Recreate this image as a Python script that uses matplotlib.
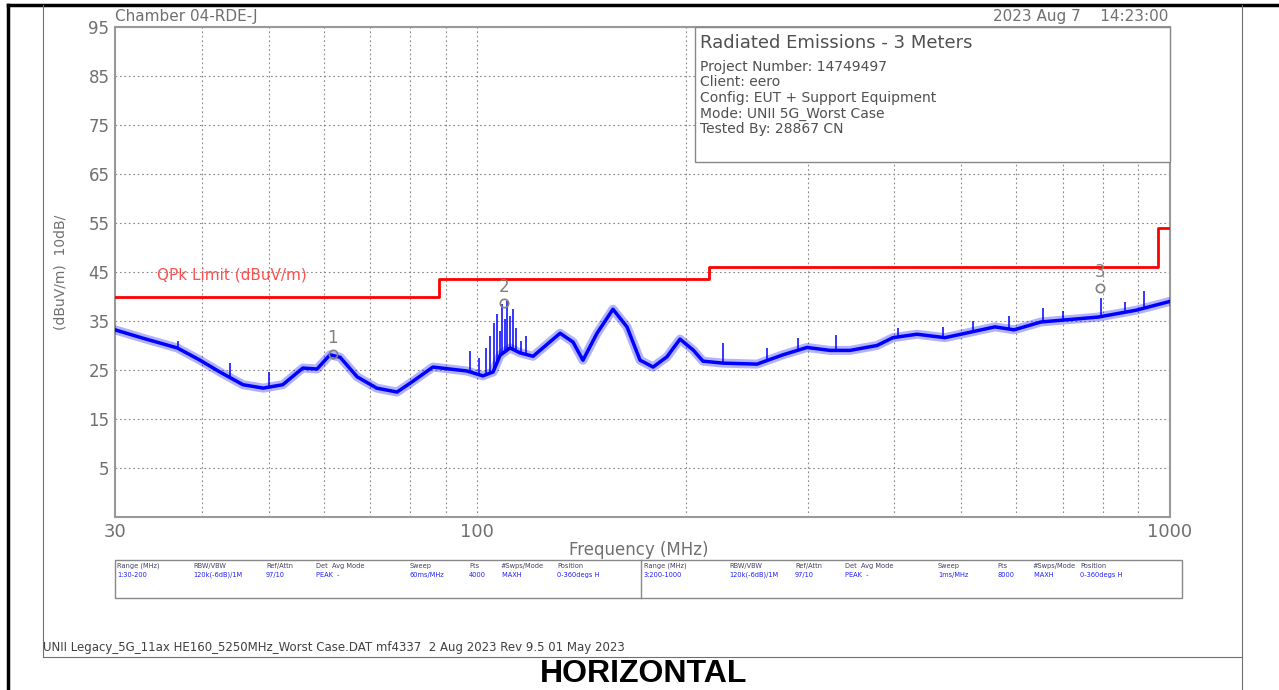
import numpy as np
import matplotlib
matplotlib.use("Agg")
import matplotlib.pyplot as plt
from matplotlib.lines import Line2D
from matplotlib.patches import Rectangle

# ---- data ----
trace_freq = [30.0, 32.9, 36.9, 39.8, 42.5, 45.9, 49.1, 52.4, 56.0, 58.7,
              61.3, 63.4, 67.1, 71.6, 76.6, 80.0, 86.3, 91.3, 96.6, 101.9,
              105.4, 107.9, 111.5, 115.3, 120.4, 131.7, 137.5, 142.1, 148.9, 157.0,
              164.5, 171.8, 179.4, 187.9, 196.2, 204.9, 211.8, 226.4, 253.4, 276.3,
              299.2, 323.0, 345.2, 377.6, 398.2, 431.2, 473.3, 558.9, 595.4, 651.3,
              787.4, 893.4, 1000.0]
trace_level = [33.2, 31.5, 29.5, 27.0, 24.6, 22.0, 21.3, 22.0, 25.4, 25.2,
               28.1, 27.6, 23.6, 21.3, 20.5, 22.3, 25.6, 25.2, 24.8, 23.8,
               24.6, 28.0, 29.5, 28.5, 27.8, 32.5, 30.7, 27.0, 32.5, 37.4,
               33.8, 27.0, 25.6, 27.7, 31.3, 29.1, 26.8, 26.4, 26.2, 28.1,
               29.6, 29.0, 29.0, 30.0, 31.6, 32.3, 31.6, 33.8, 33.2, 34.8,
               35.8, 37.2, 39.0]

spike_freq = [37.0, 44.0, 50.0, 97.5, 100.5, 103.0, 104.5, 105.8, 106.8, 107.7,
              108.5, 109.5, 110.5, 111.5, 112.5, 113.8, 115.5, 117.5, 226.0, 262.0,
              290.0, 330.0, 405.0, 470.0, 520.0, 585.0, 655.0, 700.0, 795.0, 860.0,
              917.0]
spike_top = [31.0, 26.5, 24.5, 28.8, 27.5, 29.5, 32.0, 34.5, 36.5, 33.0,
             38.5, 35.5, 39.0, 36.0, 37.5, 33.5, 31.0, 32.0, 30.6, 29.5,
             31.5, 32.2, 33.5, 33.8, 35.0, 36.0, 37.6, 37.0, 39.7, 38.8,
             41.1]

limit_freq = [30, 88, 88, 216, 216, 960, 960, 1000]
limit_level = [40, 40, 43.5, 43.5, 46, 46, 54, 54]

marker_ids = ["1", "2", "3"]
marker_freq = [61.9, 109.3, 793.0]
marker_level = [28.3, 38.7, 41.7]

ytick_vals = [5, 15, 25, 35, 45, 55, 65, 75, 85, 95]
xtick_vals = [30, 100, 1000]
xtick_labels = ["30", "100", "1000"]

info_title = "Radiated Emissions - 3 Meters"
info_lines = ["Project Number: 14749497", "Client: eero",
              "Config: EUT + Support Equipment", "Mode: UNII 5G_Worst Case",
              "Tested By: 28867 CN"]

table_header = ["Range (MHz)", "RBW/VBW", "Ref/Attn", "Det  Avg Mode", "Sweep",
                "Pts", "#Swps/Mode", "Position"]
table_row1 = ["1:30-200", "120k(-6dB)/1M", "97/10", "PEAK  -", "60ms/MHz",
              "4000", " MAXH", "0-360degs H"]
table_row2 = ["3:200-1000", "120k(-6dB)/1M", "97/10", "PEAK  -", "1ms/MHz",
              "8000", " MAXH", "0-360degs H"]

W, H = 1279, 690
GRAY = "#707070"


def fx(px):
    return px / W


def fy(py):
    return 1 - py / H


fig = plt.figure(figsize=(W / 100, H / 100), dpi=100)
fig.patch.set_facecolor("white")

# outer frame lines
fig.add_artist(Line2D([fx(8), fx(8)], [fy(5), fy(690)], color="black", lw=2.5))
fig.add_artist(Line2D([fx(8), fx(1279)], [fy(5), fy(5)], color="black", lw=2.5))
fig.add_artist(Line2D([fx(43), fx(43)], [fy(5), fy(657)], color=GRAY, lw=0.8))
fig.add_artist(Line2D([fx(1242), fx(1242)], [fy(5), fy(690)], color=GRAY, lw=0.8))
fig.add_artist(Line2D([fx(43), fx(1242)], [fy(657), fy(657)], color=GRAY, lw=0.8))

ax = fig.add_axes([fx(115), fy(517), fx(1170) - fx(115), fy(27) - fy(517)])
ax.set_xscale("log")
ax.set_xlim(30, 1000)
ax.set_ylim(-5, 95)

# grid
ax.set_yticks(ytick_vals)
ax.set_yticklabels([str(v) for v in ytick_vals], color=GRAY, fontsize=12)
ax.set_xticks(xtick_vals)
ax.set_xticklabels(xtick_labels, color=GRAY, fontsize=13)
ax.xaxis.set_minor_locator(matplotlib.ticker.LogLocator(base=10, subs=np.arange(2, 10)))
ax.xaxis.set_minor_formatter(matplotlib.ticker.NullFormatter())
ax.tick_params(length=0, which="both", pad=4)
ax.grid(True, which="both", axis="x", color="#888888", ls=(0, (1.5, 2.5)), lw=0.8)
ax.grid(True, which="major", axis="y", color="#888888", ls=(0, (1.5, 2.5)), lw=0.8)
for sp in ax.spines.values():
    sp.set_color("#999999")
    sp.set_linewidth(1.5)

# trace
tf = np.array(trace_freq)
tl = np.array(trace_level)
ax.plot(tf, tl, color="#0000ff", lw=6.5, alpha=0.3, solid_joinstyle="round", zorder=3)
ax.plot(tf, tl, color="#0000ff", lw=2.5, zorder=4)
sb = np.interp(np.log(spike_freq), np.log(tf), tl)
ax.vlines(spike_freq, sb, spike_top, color="#0000ff", lw=1.1, zorder=4)

# limit
ax.plot(limit_freq, limit_level, color="#ff0000", lw=2, zorder=5)
ax.text(34.5, 44.3, "QPk Limit (dBuV/m)", color="#ff5050", fontsize=11, va="center")

# markers
ax.plot(marker_freq, marker_level, ls="none", marker="o", ms=6, mfc="none",
        mec="#808080", mew=1.2, zorder=6)
for mid, mf, ml in zip(marker_ids, marker_freq, marker_level):
    ax.text(mf, ml + 1.4, mid, color="#808080", fontsize=12, ha="center", va="bottom", zorder=6)

# info box
box = Rectangle((fx(695), fy(162)), fx(1170) - fx(695), fy(27) - fy(162),
                transform=fig.transFigure, facecolor="white", edgecolor="#888888",
                lw=1.0, zorder=10)
fig.add_artist(box)
fig.text(fx(700), fy(43), info_title, color="#505050", fontsize=13, va="center", zorder=11)
for i, line in enumerate(info_lines):
    fig.text(fx(700), fy(67 + i * 15.5), line, color="#505050", fontsize=10, va="center", zorder=11)

# header texts
fig.text(fx(115), fy(17), "Chamber 04-RDE-J", color=GRAY, fontsize=11, va="center")
fig.text(fx(1168), fy(17), "2023 Aug 7    14:23:00", color=GRAY, fontsize=11,
         va="center", ha="right")

# axis labels
fig.text(fx(60), fy(272), "(dBuV/m)  10dB/", color=GRAY, fontsize=10, rotation=90,
         va="center", ha="center")
fig.text(fx(639), fy(550), "Frequency (MHz)", color=GRAY, fontsize=12, va="center", ha="center")

# settings table
fig.add_artist(Rectangle((fx(115), fy(598)), fx(1182) - fx(115), fy(560) - fy(598),
                         transform=fig.transFigure, facecolor="none", edgecolor="#888888", lw=1.0))
fig.add_artist(Line2D([fx(641), fx(641)], [fy(560), fy(598)], color="#888888", lw=1.0))
col_left = [117, 193, 266, 316, 410, 469, 500, 557]
col_right = [644, 729, 795, 845, 938, 997, 1032, 1080]
for cols, row in ((col_left, table_row1), (col_right, table_row2)):
    for cx, hdr, val in zip(cols, table_header, row):
        fig.text(fx(cx), fy(566), hdr, color="#404060", fontsize=4.8, va="center")
        fig.text(fx(cx), fy(575), val, color="#2020ff", fontsize=4.8, va="center")

# footer
fig.text(fx(43), fy(647), "UNII Legacy_5G_11ax HE160_5250MHz_Worst Case.DAT mf4337  2 Aug 2023 Rev 9.5 01 May 2023",
         color="#404040", fontsize=8.5, va="center")
fig.text(fx(644), fy(674), "HORIZONTAL", color="black", fontsize=23, fontweight="bold",
         family="Liberation Sans", va="center", ha="center")

fig.savefig("out.png", dpi=100, facecolor="white")
